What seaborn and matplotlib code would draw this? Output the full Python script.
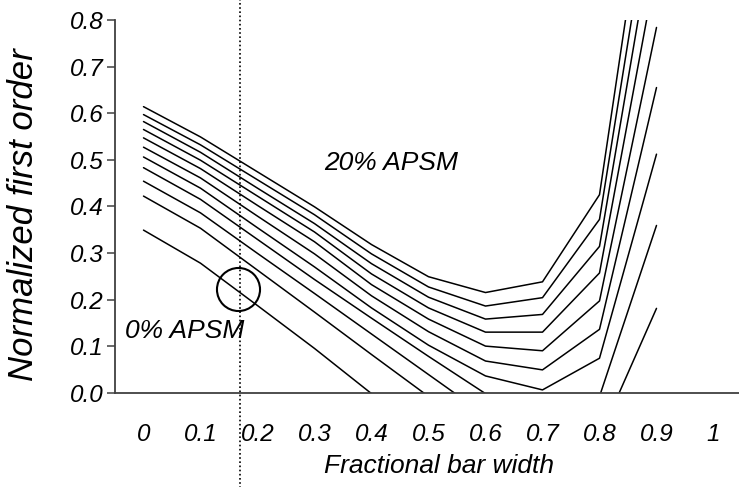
import numpy as np
import pandas as pd
import matplotlib
matplotlib.use("Agg")
import matplotlib.pyplot as plt
import seaborn as sns
from matplotlib.ticker import FixedLocator, NullFormatter

# ---- data ----
bar_width = [0.0, 0.1, 0.2, 0.3, 0.4, 0.5, 0.6, 0.7, 0.8, 0.9]
x_tick_values = [0.0, 0.1, 0.2, 0.3, 0.4, 0.5, 0.6, 0.7, 0.8, 0.9, 1.0]
x_tick_labels = ["0", "0.1", "0.2", "0.3", "0.4", "0.5", "0.6", "0.7", "0.8", "0.9", "1"]
y_tick_values = [0.0, 0.1, 0.2, 0.3, 0.4, 0.5, 0.6, 0.7, 0.8]
y_tick_labels = ["0.0", "0.1", "0.2", "0.3", "0.4", "0.5", "0.6", "0.7", "0.8"]
nan = np.nan
apsm_0 = [0.349, 0.278, 0.187, 0.095, -0.002, nan, nan, nan, nan, nan]
apsm_2 = [0.422, 0.353, 0.263, 0.173, 0.082, -0.008, nan, nan, nan, nan]
apsm_4 = [0.454, 0.386, 0.299, 0.213, 0.126, 0.039, -0.048, nan, -0.096, 0.181]
apsm_6 = [0.483, 0.415, 0.329, 0.243, 0.160, 0.078, -0.002, nan, -0.008, 0.359]
apsm_8 = [0.506, 0.439, 0.354, 0.270, 0.182, 0.102, 0.036, 0.006, 0.074, 0.512]
apsm_10 = [0.527, 0.461, 0.379, 0.298, 0.208, 0.131, 0.068, 0.049, 0.136, 0.655]
apsm_12 = [0.547, 0.481, 0.402, 0.324, 0.232, 0.158, 0.100, 0.090, 0.197, 0.784]
apsm_14 = [0.565, 0.499, 0.422, 0.345, 0.255, 0.182, 0.130, 0.130, 0.257, 0.914]
apsm_16 = [0.582, 0.516, 0.439, 0.363, 0.277, 0.205, 0.158, 0.168, 0.314, 1.031]
apsm_18 = [0.597, 0.532, 0.457, 0.382, 0.298, 0.227, 0.186, 0.204, 0.372, 1.134]
apsm_20 = [0.614, 0.549, 0.474, 0.399, 0.318, 0.249, 0.215, 0.238, 0.425, 1.248]
series_names = ["0%", "2%", "4%", "6%", "8%", "10%", "12%", "14%", "16%", "18%", "20%"]
series_values = [apsm_0, apsm_2, apsm_4, apsm_6, apsm_8, apsm_10,
                 apsm_12, apsm_14, apsm_16, apsm_18, apsm_20]
marker_x, marker_y = 0.166, 0.222      # circled point
cursor_x = 0.17                         # dotted vertical line

rows = []
for name, vals in zip(series_names, series_values):
    for bw, v in zip(bar_width, vals):
        rows.append({"APSM": name, "bar_width": bw, "value": v})
df = pd.DataFrame(rows).dropna()

sns.set_style("white")
plt.rcParams["font.family"] = ["Liberation Sans", "DejaVu Sans"]
plt.rcParams["font.style"] = "italic"
for key in ["text.color", "axes.labelcolor", "xtick.color", "ytick.color"]:
    plt.rcParams[key] = "black"

fig = plt.figure(figsize=(7.39, 4.87), dpi=100)
ax = fig.add_axes([115 / 739, (487 - 392.7) / 487, 627 / 739, 372.7 / 487])

sns.lineplot(data=df, x="bar_width", y="value", hue="APSM", units="APSM",
             estimator=None, sort=True, palette=["black"] * len(series_names),
             legend=False, linewidth=1.1, ax=ax)

ax.set_xlim(-0.05, 1.05)
ax.set_ylim(0.0, 0.8)

# x axis: labels at category centres, tick marks between categories
ax.xaxis.set_major_locator(FixedLocator(x_tick_values))
ax.set_xticklabels(x_tick_labels, fontsize=17.5, style="italic", color="black")
ax.xaxis.set_minor_locator(FixedLocator([v - 0.05 for v in x_tick_values] + [1.05]))
ax.xaxis.set_minor_formatter(NullFormatter())
ax.tick_params(axis="x", which="major", length=0, pad=21.5)
ax.tick_params(axis="x", which="minor", direction="in", length=5.5, width=1.1, color="#404040")

ax.set_yticks(y_tick_values)
ax.set_yticklabels(y_tick_labels, fontsize=17.5, style="italic", color="black")
ax.tick_params(axis="y", direction="out", length=5.5, width=1.1, color="#404040", pad=3, left=True)

for side in ["top", "right"]:
    ax.spines[side].set_visible(False)
for side in ["left", "bottom"]:
    ax.spines[side].set_color("#404040")
    ax.spines[side].set_linewidth(1.3)

ax.set_xlabel("Fractional bar width", fontsize=19, style="italic", color="black")
ax.set_ylabel("Normalized first order", fontsize=25, style="italic", color="black")
ax.xaxis.set_label_coords(0.517, -0.165)
ax.yaxis.set_label_coords(-0.12, 0.477)

# annotations
ax.text(0.434, 0.479, "20% APSM", fontsize=19, style="italic", ha="center", va="baseline")
ax.text(0.073, 0.1167, "0% APSM", fontsize=19, style="italic", ha="center", va="baseline")

ax.plot([marker_x], [marker_y], marker="o", markersize=31, markerfacecolor="none",
        markeredgecolor="black", markeredgewidth=1.5, clip_on=False)

ax.axvline(cursor_x, ymin=-0.26, ymax=1.06, color="black", linestyle=(0, (1, 1.5)),
           linewidth=1.2, clip_on=False)

fig.savefig("out.png", dpi=100)
